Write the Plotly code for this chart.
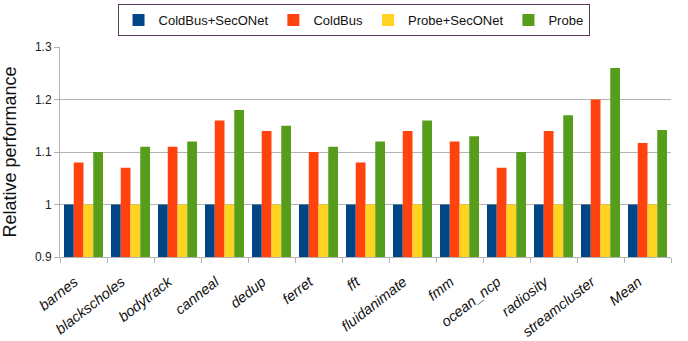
import plotly.graph_objects as go

categories = ["barnes", "blackscholes", "bodytrack", "canneal", "dedup", "ferret", "fft",
              "fluidanimate", "fmm", "ocean_ncp", "radiosity", "streamcluster", "Mean"]
coldbus_seconet = [1.0, 1.0, 1.0, 1.0, 1.0, 1.0, 1.0, 1.0, 1.0, 1.0, 1.0, 1.0, 1.0]
coldbus = [1.08, 1.07, 1.11, 1.16, 1.14, 1.10, 1.08, 1.14, 1.12, 1.07, 1.14, 1.20, 1.117]
probe_seconet = [1.0, 1.0, 1.0, 1.0, 1.0, 1.0, 1.0, 1.0, 1.0, 1.0, 1.0, 1.0, 1.0]
probe = [1.10, 1.11, 1.12, 1.18, 1.15, 1.11, 1.12, 1.16, 1.13, 1.10, 1.17, 1.26, 1.142]

series = [
    ("ColdBus+SecONet", coldbus_seconet, "#004586"),
    ("ColdBus", coldbus, "#ff420e"),
    ("Probe+SecONet", probe_seconet, "#ffd320"),
    ("Probe", probe, "#579d1c"),
]

fig = go.Figure()
for name, vals, color in series:
    fig.add_trace(go.Bar(x=categories, y=vals, name=name,
                         marker=dict(color=color, line=dict(width=0))))

font = "Liberation Sans, Arial, sans-serif"
fig.update_layout(
    width=688, height=341,
    margin=dict(l=60, r=17, t=47, b=84, autoexpand=False),
    paper_bgcolor="white", plot_bgcolor="white",
    barmode="group", bargap=0.17, bargroupgap=0,
    font=dict(family=font, color="#222222"),
    showlegend=True,
    legend=dict(orientation="h",
                x=0.4804, xanchor="center", y=1.205, yanchor="top",
                bordercolor="#5a3d5a", borderwidth=1,
                font=dict(size=13, family=font, color="#111111"),
                itemwidth=30, traceorder="normal"),
    xaxis=dict(type="category", tickangle=-38, automargin=False,
               tickfont=dict(size=14.5, family=font, style="italic", color="#111111"),
               ticklabelstandoff=10, ticklabelshift=-9,
               ticks="outside", ticklen=5, tickcolor="#b3b3b3", tickson="boundaries",
               showline=True, linecolor="#b3b3b3", linewidth=1,
               showgrid=False),
    yaxis=dict(range=[0.9, 1.3], automargin=False,
               tickvals=[0.9, 1.0, 1.1, 1.2, 1.3], ticktext=["0.9", "1", "1.1", "1.2", "1.3"],
               tickfont=dict(size=12, family=font, color="#222222"),
               ticks="outside", ticklen=5, tickcolor="#b3b3b3",
               showline=True, linecolor="#b3b3b3", linewidth=1,
               showgrid=True, gridcolor="#b3b3b3", gridwidth=1,
               title=dict(text="Relative performance", font=dict(size=18, family=font, color="#111111"))),
)

fig.write_html("out.html", config={"displayModeBar": False},
               post_script="document.body.style.margin='0';")
